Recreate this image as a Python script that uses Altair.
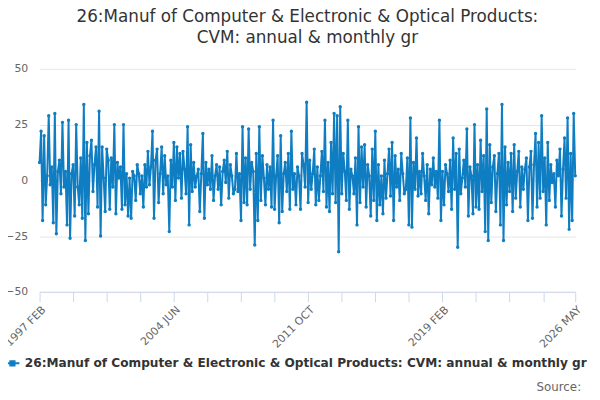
import altair as alt
import pandas as pd

values = [
 8, 22, -18, 20, -11, 2, 29, -2, 6, -19, 30, -24, 4, 9, -6, 26,
 -3, 4, -20, 27, -26, 3, 7, -16, 25, -3, -11, 10, -17, 34, -27, 17,
 -15, 11, 18, -5, 7, 15, -12, 31, -25, 15, 1, -14, 14, 9, -13, 10,
 -3, 25, -15, 8, 1, 6, -13, 25, -11, 3, -16, 1, -17, 4, 2, -9,
 7, 3, -6, 2, -12, 7, -3, 13, -2, 6, 22, -17, 9, 14, -10, 3,
 15, -6, 11, -2, 2, -23, 9, -3, 17, -9, 15, 1, 12, -8, 13, 5,
 -6, 24, -20, 16, -5, 8, -3, 2, 5, -14, 3, 21, -17, 8, -2, 5,
 -4, 11, -9, 2, 7, -4, 6, -11, 4, 9, -1, 13, -8, 7, 2, -6,
 -4, 12, -5, 3, -18, 24, -10, 10, -11, 23, -4, 8, 4, -29, 12, -18,
 24, -9, 11, 1, -11, 7, -4, 6, -12, 27, -13, 2, 11, -19, 20, -14,
 3, 8, -5, 12, -13, 22, -4, 3, -11, 6, 2, -13, 12, 7, -3, 35,
 -10, 9, -4, 3, 14, -11, 6, -9, 2, 13, -5, 27, -12, 8, -14, 17,
 -6, 30, -10, 29, -32, 33, -6, 12, 4, -9, 27, -13, 5, 2, -6, 10,
 -20, 24, -10, 15, -3, 16, -12, 7, 2, -16, 14, -9, 22, -18, 7, -11,
 2, -15, 9, -8, 3, 14, -7, 17, -18, 11, -3, 5, -9, 12, 3, -6,
 -4, 10, -20, 28, -21, 8, -4, 19, -7, 4, -6, 12, 2, -9, 7, -15,
 5, -2, 10, -3, 4, -8, 27, -18, 4, -11, 7, 3, -5, 9, -13, 19,
 -4, 12, -30, 14, -6, 1, 9, -3, 23, -16, 6, 2, -15, 25, -12, 7,
 -13, 18, -5, 11, -23, 32, -27, 16, -10, 6, 11, -14, 3, 12, -20, 34,
 -27, 15, -11, 8, -5, 12, -14, 16, -8, 4, 13, -12, 6, -4, 5, 10,
 -18, 6, 13, -17, 7, 21, -12, 17, -8, 29, -5, 10, -20, 17, -9, 7,
 -1, 3, -12, 9, 2, 14, -16, 5, 19, -8, 28, -22, 12, -18, 30, 2,
]
labels = {0: "1997 FEB", 88: "2004 JUN", 176: "2011 OCT", 264: "2019 FEB", 351: "2026 MAY"}
series = "26:Manuf of Computer & Electronic & Optical Products: CVM: annual & monthly gr"

df = pd.DataFrame({"i": list(range(len(values))), "v": values, "s": series})
ticks = list(range(0, 331, 22)) + [351]
lab_expr = " : ".join(f"datum.value == {k} ? '{v}'" for k, v in labels.items()) + " : ''"

base = alt.Chart(df).encode(
    x=alt.X("i:Q", scale=alt.Scale(domain=[0, 351], nice=False, zero=False),
            axis=alt.Axis(values=ticks, labelExpr=lab_expr, labelAngle=-45, grid=False,
                          title=None, domainColor="#ccd6eb", tickColor="#ccd6eb", tickSize=10,
                          labelColor="#666", labelFontSize=11, labelAlign="right",
                          labelFont="DejaVu Sans", labelOverlap=False)),
    y=alt.Y("v:Q", scale=alt.Scale(domain=[-50, 50]),
            axis=alt.Axis(values=[-50, -25, 0, 25, 50], title=None, domain=False, ticks=False,
                          gridColor="#e6e6e6", labelColor="#666", labelFontSize=11,
                          labelFont="DejaVu Sans", labelPadding=12)),
    color=alt.Color("s:N", scale=alt.Scale(range=["#0f7dc2"]),
                    legend=alt.Legend(orient="none", legendX=-36, legendY=290, title=None,
                                      labelFontSize=12.3, labelFontWeight="bold", labelColor="#333",
                                      labelFont="DejaVu Sans", labelLimit=700,
                                      symbolType="M-1,0L1,0M-0.3,-0.3L0.3,-0.3L0.3,0.3L-0.3,0.3Z",
                                      symbolStrokeWidth=2, symbolSize=200)),
)
line = base.mark_line(strokeWidth=2, point=alt.OverlayMarkDef(size=12, filled=True))
src = alt.Chart(pd.DataFrame({"t": ["Source:"]})).mark_text(
    align="right", fontSize=12, color="#666", font="DejaVu Sans"
).encode(x=alt.value(549), y=alt.value(323), text="t:N")

chart = alt.layer(line, src).properties(
    width=543, height=226,
    autosize=alt.AutoSizeParams(type="none"),
    padding={"left": 32, "top": 59, "right": 17, "bottom": 107},
    title=alt.Title(["26:Manuf of Computer & Electronic & Optical Products:", "CVM: annual & monthly gr"],
                    fontSize=17, fontWeight="normal", color="#333", font="DejaVu Sans",
                    anchor="middle", offset=16, lineHeight=22),
).configure_view(stroke=None)

chart.save("out.html", embed_options={"renderer": "svg", "actions": False})
